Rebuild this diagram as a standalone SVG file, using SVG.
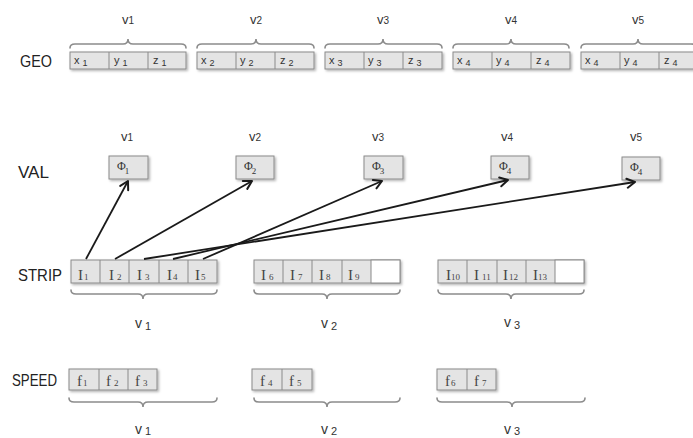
<svg xmlns="http://www.w3.org/2000/svg" width="693" height="438" viewBox="0 0 693 438">
<defs>
<filter id="sh" x="-10%" y="-20%" width="130%" height="160%">
<feDropShadow dx="1.5" dy="1.5" stdDeviation="1" flood-color="#000" flood-opacity="0.3"/>
</filter>
<marker id="arr" markerUnits="userSpaceOnUse" markerWidth="12" markerHeight="12" viewBox="-10 -6 12 12" refX="0" refY="0" orient="auto">
<path d="M-8,-4.5 L0,0 L-8,4.5" fill="none" stroke="#1a1a1a" stroke-width="2" stroke-linecap="round" stroke-linejoin="round"/>
</marker>
</defs>
<style>
.box{fill:#e4e4e4;stroke:#8a8a8a;stroke-width:1;filter:url(#sh)}
.wbox{fill:#ffffff;stroke:#8a8a8a;stroke-width:1}
.div{stroke:#8a8a8a;stroke-width:1}
.brace{fill:none;stroke:#8c8c8c;stroke-width:1.6;stroke-linecap:round}
.row{font-family:"Liberation Sans",sans-serif;font-size:17px;fill:#222}
.vs{font-family:"Liberation Sans",sans-serif;font-size:13px;fill:#333;text-anchor:middle}
.vb{font-family:"Liberation Sans",sans-serif;font-size:14px;fill:#333;text-anchor:middle}
.gc{font-family:"Liberation Sans",sans-serif;font-size:11px;fill:#333}
.sc{font-family:"Liberation Serif",serif;font-size:15px;fill:#444}
.phi{font-family:"Liberation Serif",serif;font-size:12px;fill:#333}
.conn{stroke:#1a1a1a;stroke-width:1.8;fill:none;marker-end:url(#arr)}
</style>
<rect width="693" height="438" fill="#ffffff"/>

<!-- row labels -->
<g id="labels">
<text class="row" x="20" y="67" textLength="32" lengthAdjust="spacingAndGlyphs">GEO</text>
<text class="row" x="18" y="178" textLength="31" lengthAdjust="spacingAndGlyphs">VAL</text>
<text class="row" x="18" y="281" textLength="44" lengthAdjust="spacingAndGlyphs">STRIP</text>
<text class="row" x="12" y="386" textLength="45" lengthAdjust="spacingAndGlyphs">SPEED</text>
</g>

<!-- GEO -->
<g id="geo-v1">
<text class="vs" x="128" y="24">v<tspan font-size="10">1</tspan></text>
<path class="brace" d="M70,48 Q70,44 75,44 L123,44 Q128,44 128,39 Q128,44 133,44 L181,44 Q186,44 186,48"/>
<rect class="box" x="70" y="52" width="116" height="17"/>
<line class="div" x1="109" y1="52" x2="109" y2="69"/><line class="div" x1="148" y1="52" x2="148" y2="69"/>
<text class="gc" x="74" y="64">x<tspan dx="3" dy="2" font-size="9">1</tspan></text>
<text class="gc" x="114" y="64">y<tspan dx="3" dy="2" font-size="9">1</tspan></text>
<text class="gc" x="153" y="64">z<tspan dx="3" dy="2" font-size="9">1</tspan></text>
</g>
<g id="geo-v2">
<text class="vs" x="256" y="24">v<tspan font-size="10">2</tspan></text>
<path class="brace" d="M197,48 Q197,44 202,44 L251,44 Q256,44 256,39 Q256,44 261,44 L309,44 Q314,44 314,48"/>
<rect class="box" x="197" y="52" width="117" height="17"/>
<line class="div" x1="236" y1="52" x2="236" y2="69"/><line class="div" x1="275" y1="52" x2="275" y2="69"/>
<text class="gc" x="201" y="64">x<tspan dx="3" dy="2" font-size="9">2</tspan></text>
<text class="gc" x="240" y="64">y<tspan dx="3" dy="2" font-size="9">2</tspan></text>
<text class="gc" x="280" y="64">z<tspan dx="3" dy="2" font-size="9">2</tspan></text>
</g>
<g id="geo-v3">
<text class="vs" x="383" y="24">v<tspan font-size="10">3</tspan></text>
<path class="brace" d="M325,48 Q325,44 330,44 L378,44 Q383,44 383,39 Q383,44 388,44 L437,44 Q442,44 442,48"/>
<rect class="box" x="325" y="52" width="117" height="17"/>
<line class="div" x1="364" y1="52" x2="364" y2="69"/><line class="div" x1="403" y1="52" x2="403" y2="69"/>
<text class="gc" x="329" y="64">x<tspan dx="3" dy="2" font-size="9">3</tspan></text>
<text class="gc" x="368" y="64">y<tspan dx="3" dy="2" font-size="9">3</tspan></text>
<text class="gc" x="408" y="64">z<tspan dx="3" dy="2" font-size="9">3</tspan></text>
</g>
<g id="geo-v4">
<text class="vs" x="511" y="24">v<tspan font-size="10">4</tspan></text>
<path class="brace" d="M453,48 Q453,44 458,44 L506,44 Q511,44 511,39 Q511,44 516,44 L564,44 Q569,44 569,48"/>
<rect class="box" x="453" y="52" width="117" height="17"/>
<line class="div" x1="492" y1="52" x2="492" y2="69"/><line class="div" x1="531" y1="52" x2="531" y2="69"/>
<text class="gc" x="457" y="64">x<tspan dx="3" dy="2" font-size="9">4</tspan></text>
<text class="gc" x="496" y="64">y<tspan dx="3" dy="2" font-size="9">4</tspan></text>
<text class="gc" x="536" y="64">z<tspan dx="3" dy="2" font-size="9">4</tspan></text>
</g>
<g id="geo-v5">
<text class="vs" x="638" y="24">v<tspan font-size="10">5</tspan></text>
<path class="brace" d="M581,48 Q581,44 586,44 L633,44 Q638,44 638,39 Q638,44 643,44 L691,44 Q696,44 696,48"/>
<rect class="box" x="581" y="52" width="117" height="17"/>
<line class="div" x1="620" y1="52" x2="620" y2="69"/><line class="div" x1="659" y1="52" x2="659" y2="69"/>
<text class="gc" x="585" y="64">x<tspan dx="3" dy="2" font-size="9">4</tspan></text>
<text class="gc" x="624" y="64">y<tspan dx="3" dy="2" font-size="9">4</tspan></text>
<text class="gc" x="664" y="64">z<tspan dx="3" dy="2" font-size="9">4</tspan></text>
</g>

<!-- VAL -->
<g id="val-v1">
<text class="vs" x="127" y="141">v<tspan font-size="10">1</tspan></text>
<rect class="box" x="109" y="156" width="39" height="23"/>
<text class="phi" x="117" y="170">Φ<tspan dx="-1" dy="4" font-size="9">1</tspan></text>
</g>
<g id="val-v2">
<text class="vs" x="255" y="141">v<tspan font-size="10">2</tspan></text>
<rect class="box" x="236" y="156" width="38" height="23"/>
<text class="phi" x="244" y="170">Φ<tspan dx="-1" dy="4" font-size="9">2</tspan></text>
</g>
<g id="val-v3">
<text class="vs" x="378" y="141">v<tspan font-size="10">3</tspan></text>
<rect class="box" x="364" y="156" width="39" height="23"/>
<text class="phi" x="372" y="170">Φ<tspan dx="-1" dy="4" font-size="9">3</tspan></text>
</g>
<g id="val-v4">
<text class="vs" x="507" y="141">v<tspan font-size="10">4</tspan></text>
<rect class="box" x="491" y="156" width="38" height="23"/>
<text class="phi" x="499" y="170">Φ<tspan dx="-1" dy="4" font-size="9">4</tspan></text>
</g>
<g id="val-v5">
<text class="vs" x="636" y="141">v<tspan font-size="10">5</tspan></text>
<rect class="box" x="622" y="157" width="38" height="23"/>
<text class="phi" x="630" y="171">Φ<tspan dx="-1" dy="4" font-size="9">4</tspan></text>
</g>

<!-- STRIP -->
<g id="strip-v1">
<rect class="box" x="71" y="260" width="146" height="23"/>
<line class="div" x1="100" y1="260" x2="100" y2="283"/><line class="div" x1="129" y1="260" x2="129" y2="283"/><line class="div" x1="159" y1="260" x2="159" y2="283"/><line class="div" x1="188" y1="260" x2="188" y2="283"/>
<text class="sc" x="78" y="280">I<tspan dx="1" font-size="9">1</tspan></text>
<text class="sc" x="109" y="280">I<tspan dx="3" font-size="9">2</tspan></text>
<text class="sc" x="137" y="280">I<tspan dx="3" font-size="9">3</tspan></text>
<text class="sc" x="167" y="280">I<tspan dx="1" font-size="9">4</tspan></text>
<text class="sc" x="195" y="280">I<tspan dx="1" font-size="9">5</tspan></text>
<path class="brace" d="M71,290 Q71,294 76,294 L138,294 Q143,294 143,299 Q143,294 148,294 L212,294 Q217,294 217,290"/>
<text class="vb" x="143" y="328">v<tspan dx="3" dy="2" font-size="11">1</tspan></text>
</g>
<g id="strip-v2">
<rect class="box" x="254" y="260" width="146" height="23"/>
<rect class="wbox" x="371" y="260" width="29" height="23"/>
<line class="div" x1="283" y1="260" x2="283" y2="283"/><line class="div" x1="312" y1="260" x2="312" y2="283"/><line class="div" x1="342" y1="260" x2="342" y2="283"/>
<text class="sc" x="261" y="280">I<tspan dx="3" font-size="9">6</tspan></text>
<text class="sc" x="290" y="280">I<tspan dx="3" font-size="9">7</tspan></text>
<text class="sc" x="319" y="280">I<tspan dx="2" font-size="9">8</tspan></text>
<text class="sc" x="348" y="280">I<tspan dx="2" font-size="9">9</tspan></text>
<path class="brace" d="M254,290 Q254,294 259,294 L322,294 Q327,294 327,299 Q327,294 332,294 L395,294 Q400,294 400,290"/>
<text class="vb" x="329" y="328">v<tspan dx="3" dy="2" font-size="11">2</tspan></text>
</g>
<g id="strip-v3">
<rect class="box" x="438" y="260" width="146" height="23"/>
<rect class="wbox" x="555" y="260" width="29" height="23"/>
<line class="div" x1="467" y1="260" x2="467" y2="283"/><line class="div" x1="497" y1="260" x2="497" y2="283"/><line class="div" x1="526" y1="260" x2="526" y2="283"/>
<text class="sc" x="446" y="280">I<tspan dx="0" font-size="9">10</tspan></text>
<text class="sc" x="474" y="280">I<tspan dx="3" font-size="9">11</tspan></text>
<text class="sc" x="503" y="280">I<tspan dx="1" font-size="9">12</tspan></text>
<text class="sc" x="533" y="280">I<tspan dx="0" font-size="9">13</tspan></text>
<path class="brace" d="M438,290 Q438,294 443,294 L506,294 Q511,294 511,299 Q511,294 516,294 L579,294 Q584,294 584,290"/>
<text class="vb" x="512" y="327">v<tspan dx="3" dy="2" font-size="11">3</tspan></text>
</g>

<!-- SPEED -->
<g id="speed-v1">
<rect class="box" x="69" y="369" width="88" height="21"/>
<line class="div" x1="99" y1="369" x2="99" y2="390"/><line class="div" x1="128" y1="369" x2="128" y2="390"/>
<text class="sc" x="77" y="386">f<tspan dx="1" font-size="9">1</tspan></text>
<text class="sc" x="106" y="386">f<tspan dx="3" font-size="9">2</tspan></text>
<text class="sc" x="135" y="386">f<tspan dx="3" font-size="9">3</tspan></text>
<path class="brace" d="M69,398 Q69,402 74,402 L138,402 Q143,402 143,407 Q143,402 148,402 L212,402 Q217,402 217,398"/>
<text class="vb" x="143" y="434">v<tspan dx="3" dy="1" font-size="11">1</tspan></text>
</g>
<g id="speed-v2">
<rect class="box" x="252" y="369" width="60" height="21"/>
<line class="div" x1="282" y1="369" x2="282" y2="390"/>
<text class="sc" x="260" y="386">f<tspan dx="3" font-size="9">4</tspan></text>
<text class="sc" x="289" y="386">f<tspan dx="3" font-size="9">5</tspan></text>
<path class="brace" d="M254,398 Q254,402 259,402 L322,402 Q327,402 327,407 Q327,402 332,402 L395,402 Q400,402 400,398"/>
<text class="vb" x="329" y="434">v<tspan dx="3" dy="1" font-size="11">2</tspan></text>
</g>
<g id="speed-v3">
<rect class="box" x="437" y="369" width="59" height="21"/>
<line class="div" x1="467" y1="369" x2="467" y2="390"/>
<text class="sc" x="445" y="386">f<tspan dx="1" font-size="9">6</tspan></text>
<text class="sc" x="474" y="386">f<tspan dx="3" font-size="9">7</tspan></text>
<path class="brace" d="M437,398 Q437,402 442,402 L507,402 Q512,402 512,407 Q512,402 517,402 L580,402 Q585,402 585,398"/>
<text class="vb" x="512" y="434">v<tspan dx="3" dy="1" font-size="11">3</tspan></text>
</g>

<!-- connectors -->
<g id="connectors">
<line class="conn" x1="86" y1="259" x2="128" y2="181"/>
<line class="conn" x1="115" y1="259" x2="252" y2="181"/>
<line class="conn" x1="203" y1="259" x2="382" y2="181"/>
<line class="conn" x1="173" y1="259" x2="508" y2="180"/>
<line class="conn" x1="144" y1="259" x2="635" y2="182"/>
</g>
</svg>
